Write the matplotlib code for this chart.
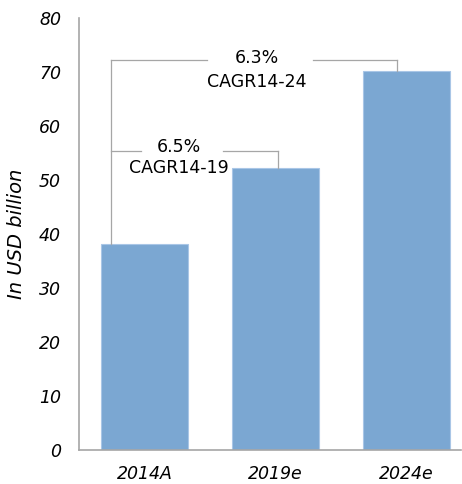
import matplotlib
matplotlib.use("Agg")
import matplotlib.pyplot as plt

categories = ["2014A", "2019e", "2024e"]
values = [38.1, 52.2, 70.2]
yticks = [0, 10, 20, 30, 40, 50, 60, 70, 80]
cagr_long = ("6.3%", "CAGR14-24")
cagr_short = ("6.5%", "CAGR14-19")

plt.rcParams['font.family'] = ['DejaVu Sans']

fig = plt.figure(figsize=(4.62, 4.84), dpi=100)
ax = fig.add_axes([0.171, 0.070, 0.827, 0.893])

x = list(range(len(categories)))
bars = ax.bar(x, values, width=0.664, color="#7BA7D2", edgecolor="#A9C6E6", linewidth=0.8, zorder=2)

ax.set_xlim(-0.5, 2.416)
ax.set_ylim(0, 80)
ax.set_yticks(yticks)
ax.set_yticklabels([str(t) for t in yticks], fontsize=12.5, style="italic")
ax.set_xticks(x)
ax.set_xticklabels(categories, fontsize=12.5, style="italic")
ax.tick_params(axis="both", length=0, colors="black")
ax.tick_params(axis="y", pad=13)
ax.tick_params(axis="x", pad=11)

for s in ["top", "right"]:
    ax.spines[s].set_visible(False)
for s in ["left", "bottom"]:
    ax.spines[s].set_color("#A6A6A6")
    ax.spines[s].set_linewidth(1.2)

ax.set_ylabel("In USD billion", fontsize=14, style="italic")
ax.yaxis.set_label_coords(-0.138, 0.5)

lc = "#A6A6A6"
lw = 0.9
# long bracket 2014A -> 2024e
yl = 72.3
xl0 = x[0] - 0.256
xl1 = x[2] - 0.073
ax.plot([xl0, xl0], [values[0], yl], color=lc, lw=lw, zorder=3)
ax.plot([xl0, 0.477], [yl, yl], color=lc, lw=lw, zorder=3)
ax.plot([1.286, xl1], [yl, yl], color=lc, lw=lw, zorder=3)
ax.plot([xl1, xl1], [yl, values[2]], color=lc, lw=lw, zorder=3)
ax.text(0.859, 72.6, cagr_long[0], ha="center", va="center", fontsize=12.5)
ax.text(0.859, 68.1, cagr_long[1], ha="center", va="center", fontsize=12.5)

# short bracket 2014A -> 2019e
ys = 55.4
xs1 = x[1] + 0.019
ax.plot([xl0, -0.027], [ys, ys], color=lc, lw=lw, zorder=3)
ax.plot([0.599, xs1], [ys, ys], color=lc, lw=lw, zorder=3)
ax.plot([xs1, xs1], [ys, values[1]], color=lc, lw=lw, zorder=3)
ax.text(0.264, 56.1, cagr_short[0], ha="center", va="center", fontsize=12.5)
ax.text(0.264, 52.2, cagr_short[1], ha="center", va="center", fontsize=12.5)

fig.savefig("out.png", dpi=100)
